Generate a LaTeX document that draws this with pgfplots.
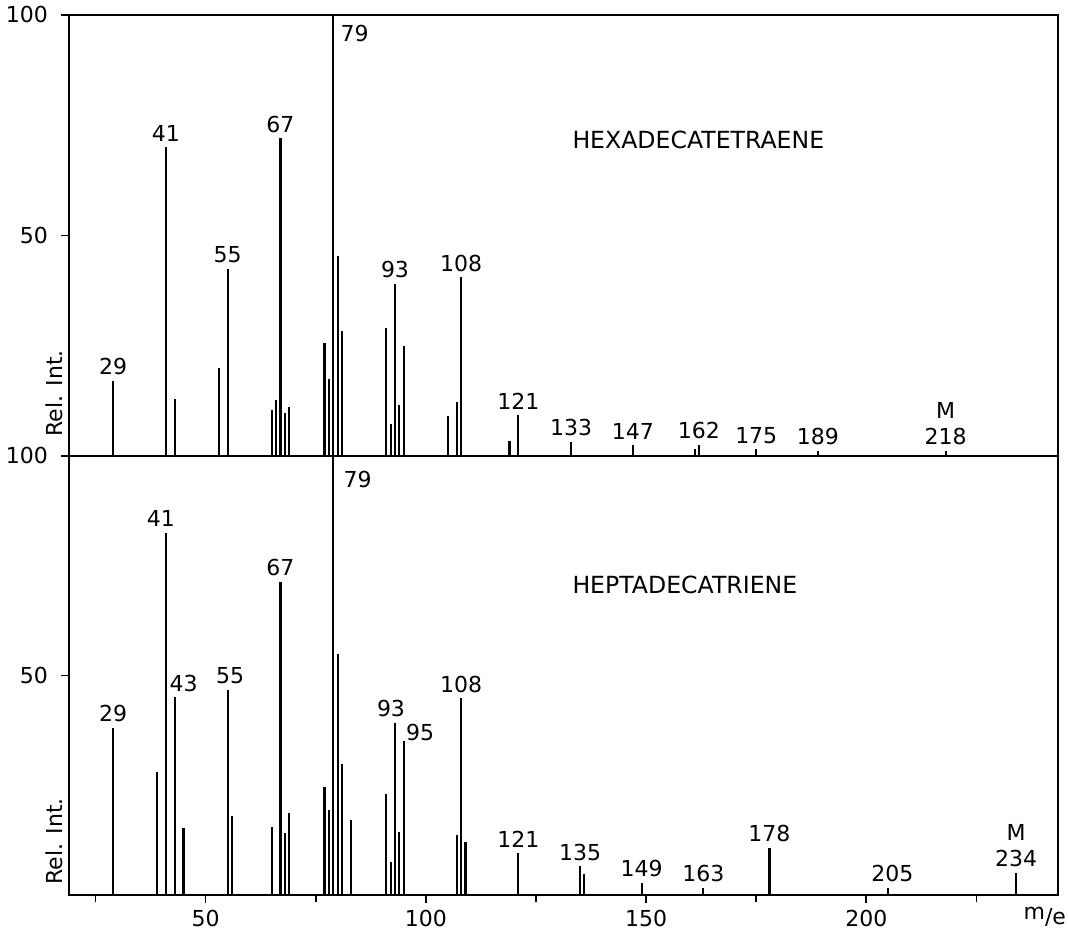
\documentclass[border=0pt]{standalone}
\usepackage{fontspec}
\setmainfont{DejaVu Sans}
\usepackage{pgfplots}
\pgfplotsset{compat=1.18}
\tikzset{lab/.style={anchor=south, inner sep=0pt, yshift=2.75pt}}
\begin{document}
\begin{tikzpicture}[font=\fontsize{11}{13}\selectfont]
\path[use as bounding box] (-34.5pt,-17pt) rectangle (499.5pt,447.5pt);
\pgfplotsset{
  ms/.style={scale only axis, width=494.5pt, xmin=19, xmax=243.5, ymin=0, ymax=100,
    axis line style={line width=1.3pt}, ytick={50,100}, tick align=outside,
    xtick pos=bottom, ytick pos=left,
    major tick length=4pt, minor tick length=3.5pt,
    every tick/.style={line width=0.9pt, black},
    /pgf/number format/assume math mode=true,
    ticklabel style={font=\fontsize{11}{13}\selectfont},
    yticklabel style={xshift=-3pt},
    clip=false}
}
% ---------------- top: hexadecatetraene ----------------
\begin{axis}[ms, at={(0,219.5pt)}, anchor=south west, height=220.5pt, xtick=\empty]
\addplot[ycomb, black, line width=1.05pt] table {
x y
29 17
41 70
43 13
53 20
55 42.5
65 10.4
66 12.6
67 72
68 9.8
69 11
77 25.7
78 17.4
79 100
80 45.4
81 28.3
91 29
92 7.3
93 39.1
94 11.5
95 24.9
105 9
107 12.3
108 40.5
119 3.5
121 9.3
133 3.2
147 2.5
161 1.5
162 2.5
175 1.5
189 1.1
218 1.2
};
\node[lab] at (axis cs:29,17) {29};
\node[lab] at (axis cs:41,70) {41};
\node[lab] at (axis cs:55,42.5) {55};
\node[lab] at (axis cs:67,72) {67};
\node[anchor=north west, inner sep=0pt, xshift=3.5pt, yshift=-5pt] at (axis cs:79,100) {79};
\node[lab] at (axis cs:93,39.1) {93};
\node[lab] at (axis cs:108,40.5) {108};
\node[lab] at (axis cs:121,9.3) {121};
\node[lab] at (axis cs:133,3.2) {133};
\node[lab] at (axis cs:147,2.5) {147};
\node[lab] at (axis cs:162,2.5) {162};
\node[lab] at (axis cs:175,1.5) {175};
\node[lab] at (axis cs:189,1.1) {189};
\node[lab, align=center] at (axis cs:218,1.2) {M\\218};
\node[anchor=west, inner sep=0pt, font=\fontsize{11.8}{14}\selectfont] at (axis cs:133.2,71.7) {HEXADECATETRAENE};
\node[xshift=-3pt, yshift=9.6pt, rotate=90, anchor=south west, inner sep=0pt] at (rel axis cs:0,0) {Rel. Int.};
\end{axis}
% ---------------- bottom: heptadecatriene ----------------
\begin{axis}[ms, at={(0,0)}, anchor=south west, height=219.5pt,
  xtick={50,100,150,200}, minor xtick={25,75,125,175,225}]
\addplot[ycomb, black, line width=1.05pt] table {
x y
29 38
39 28
41 82.5
43 45
45 15.3
55 46.8
56 18.1
65 15.4
67 71.3
68 14.2
69 18.6
77 24.6
78 19.4
79 100
80 55
81 29.8
83 17
91 23
92 7.5
93 39.2
94 14.3
95 35.1
107 13.7
108 44.8
109 12
121 9.5
135 6.5
136 4.8
149 2.7
163 1.7
178 10.7
205 1.6
234 5
};
\node[lab] at (axis cs:29,38) {29};
\node[lab, xshift=-2.5pt] at (axis cs:41,82.5) {41};
\node[lab, xshift=4.5pt] at (axis cs:43,45) {43};
\node[lab, xshift=1.3pt] at (axis cs:55,46.8) {55};
\node[lab] at (axis cs:67,71.3) {67};
\node[anchor=north west, inner sep=0pt, xshift=5pt, yshift=-7.5pt] at (axis cs:79,100) {79};
\node[lab, xshift=-2pt] at (axis cs:93,39.2) {93};
\node[anchor=south west, inner sep=0pt, xshift=1pt] at (axis cs:95,35.1) {95};
\node[lab] at (axis cs:108,44.8) {108};
\node[lab] at (axis cs:121,9.5) {121};
\node[lab] at (axis cs:135,6.5) {135};
\node[lab] at (axis cs:149,2.7) {149};
\node[lab] at (axis cs:163,1.7) {163};
\node[lab] at (axis cs:178,10.7) {178};
\node[lab, xshift=2pt] at (axis cs:205,1.6) {205};
\node[lab, align=center] at (axis cs:234,5) {M\\234};
\node[anchor=west, inner sep=0pt, font=\fontsize{11.8}{14}\selectfont] at (axis cs:133.2,70.6) {HEPTADECATRIENE};
\node[xshift=-3pt, yshift=5pt, rotate=90, anchor=south west, inner sep=0pt] at (rel axis cs:0,0) {Rel. Int.};
\node[anchor=center, inner sep=0pt] at (axis cs:240.5,-5) {\raisebox{2.5pt}{m}/e};
\end{axis}
\end{tikzpicture}
\end{document}
